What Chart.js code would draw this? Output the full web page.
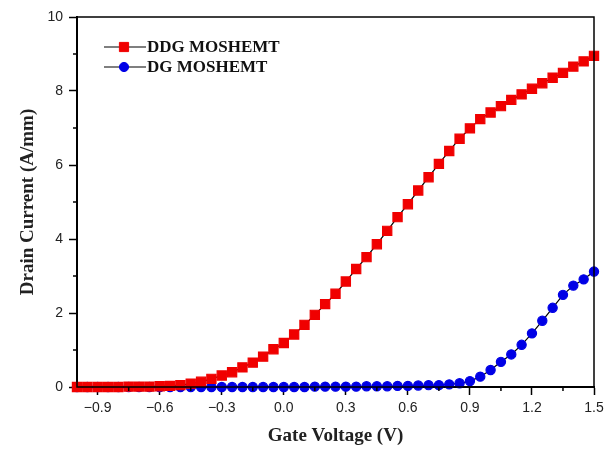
<!DOCTYPE html>
<html>
<head>
<meta charset="utf-8">
<script src="https://cdn.jsdelivr.net/npm/chart.js@4/dist/chart.umd.min.js"></script>
<style>
  html, body { margin: 0; padding: 0; background: #fff; }
  #wrap { width: 609px; height: 449px; }
</style>
</head>
<body>
<div id="wrap"><canvas id="grafico" width="609" height="449"></canvas></div>
<script>
// tensão de porta (V), passo de 0.05
const gateVoltage = [-1.00, -0.95, -0.90, -0.85, -0.80, -0.75, -0.70, -0.65, -0.60, -0.55,
  -0.50, -0.45, -0.40, -0.35, -0.30, -0.25, -0.20, -0.15, -0.10, -0.05,
  0.00, 0.05, 0.10, 0.15, 0.20, 0.25, 0.30, 0.35, 0.40, 0.45,
  0.50, 0.55, 0.60, 0.65, 0.70, 0.75, 0.80, 0.85, 0.90, 0.95,
  1.00, 1.05, 1.10, 1.15, 1.20, 1.25, 1.30, 1.35, 1.40, 1.45, 1.50];

const ddgCurrent = [0.00, 0.00, 0.00, 0.00, 0.00, 0.01, 0.01, 0.01, 0.02, 0.03,
  0.05, 0.09, 0.14, 0.22, 0.31, 0.40, 0.53, 0.66, 0.82, 1.02,
  1.19, 1.42, 1.68, 1.95, 2.24, 2.52, 2.85, 3.19, 3.51, 3.86,
  4.22, 4.59, 4.94, 5.31, 5.67, 6.03, 6.38, 6.71, 6.99, 7.24,
  7.42, 7.59, 7.76, 7.91, 8.06, 8.21, 8.36, 8.49, 8.66, 8.80, 8.95];

const dgCurrent = [0.00, 0.00, 0.00, 0.00, 0.00, 0.00, 0.00, 0.00, 0.00, 0.00,
  0.00, 0.00, 0.00, 0.00, 0.00, 0.00, 0.00, 0.00, 0.00, 0.00,
  0.00, 0.00, 0.00, 0.01, 0.01, 0.01, 0.01, 0.01, 0.02, 0.02,
  0.02, 0.03, 0.03, 0.04, 0.05, 0.05, 0.07, 0.10, 0.16, 0.28,
  0.46, 0.68, 0.88, 1.14, 1.45, 1.79, 2.14, 2.49, 2.74, 2.91, 3.12];

const seriesNames = ["DDG MOSHEMT", "DG MOSHEMT"];

const xTicks = [-0.9, -0.6, -0.3, 0.0, 0.3, 0.6, 0.9, 1.2, 1.5];
const xMinorTicks = [-0.75, -0.45, -0.15, 0.15, 0.45, 0.75, 1.05, 1.35];
const yTicks = [0, 2, 4, 6, 8, 10];
const yMinorTicks = [1, 3, 5, 7, 9];

function pontos(valores) {
  return gateVoltage.map((v, i) => ({ x: v, y: valores[i] }));
}

// moldura, ticks menores e legenda dentro do gráfico
const extras = {
  id: "extras",
  afterDraw(chart) {
    const ctx = chart.ctx;
    const area = chart.chartArea;
    const sx = chart.scales.x;
    const sy = chart.scales.y;
    ctx.save();
    ctx.strokeStyle = "#000";
    ctx.lineWidth = 1.5;
    ctx.strokeRect(area.left, area.top, area.right - area.left, area.bottom - area.top);

    ctx.lineWidth = 1.5;
    ctx.beginPath();
    xMinorTicks.forEach((v) => {
      const px = sx.getPixelForValue(v);
      ctx.moveTo(px, area.bottom);
      ctx.lineTo(px, area.bottom + 4);
    });
    yMinorTicks.forEach((v) => {
      const py = sy.getPixelForValue(v);
      ctx.moveTo(area.left, py);
      ctx.lineTo(area.left - 4, py);
    });
    ctx.stroke();

    // legenda
    ctx.font = "bold 17px 'Liberation Serif'";
    ctx.textBaseline = "middle";
    ctx.textAlign = "left";
    chart.data.datasets.forEach((ds, i) => {
      const y = 47 + i * 20;
      ctx.strokeStyle = "#000";
      ctx.lineWidth = 1.2;
      ctx.beginPath();
      ctx.moveTo(104, y);
      ctx.lineTo(146, y);
      ctx.stroke();
      ctx.fillStyle = ds.pointBackgroundColor;
      ctx.strokeStyle = ds.pointBorderColor;
      ctx.lineWidth = 1;
      Chart.helpers.drawPoint(ctx, { pointStyle: ds.pointStyle, radius: ds.pointRadius, rotation: 0, borderWidth: 1 }, 124, y);
      ctx.fillStyle = "#111";
      ctx.fillText(ds.label, 147, y + 1);
    });
    ctx.restore();
  }
};

const ctx = document.getElementById("grafico");
window.myChart = new Chart(ctx, {
  type: "scatter",
  data: {
    datasets: [
      {
        label: seriesNames[0],
        data: pontos(ddgCurrent),
        showLine: true,
        borderColor: "#000",
        borderWidth: 1.2,
        pointStyle: "rect",
        pointRadius: 6.5,
        pointBackgroundColor: "#f00000",
        pointBorderColor: "#f00000",
      },
      {
        label: seriesNames[1],
        data: pontos(dgCurrent),
        showLine: true,
        borderColor: "#000",
        borderWidth: 1.2,
        pointStyle: "circle",
        pointRadius: 4.6,
        pointBackgroundColor: "#0000e6",
        pointBorderColor: "#0000e6",
      },
    ],
  },
  options: {
    responsive: false,
    animation: false,
    clip: false,
    layout: { padding: { top: 17, right: 15, left: 0, bottom: 0 } },
    plugins: { legend: { display: false }, tooltip: { enabled: false } },
    scales: {
      x: {
        type: "linear",
        min: -1.0,
        max: 1.5,
        afterBuildTicks: (scale) => { scale.ticks = xTicks.map((v) => ({ value: v })); },
        afterFit: (scale) => { scale.height = 62; },
        grid: { drawOnChartArea: false, tickLength: 8, tickColor: "#000", tickWidth: 1.5 },
        border: { color: "#000", width: 2 },
        ticks: {
          padding: 5,
          color: "#222",
          font: { family: "'Liberation Sans'", size: 14 },
          callback: (v) => (v < 0 ? "\u2212" + Math.abs(v).toFixed(1) : v.toFixed(1)),
        },
        title: {
          display: true,
          text: "Gate Voltage (V)",
          color: "#222",
          font: { family: "'Liberation Serif'", size: 19, weight: "bold" },
          padding: { top: 0, bottom: 1.5 },
        },
      },
      y: {
        min: 0,
        max: 10,
        afterBuildTicks: (scale) => { scale.ticks = yTicks.map((v) => ({ value: v })); },
        afterFit: (scale) => { scale.width = 77; },
        grid: { drawOnChartArea: false, tickLength: 8, tickColor: "#000", tickWidth: 1.5 },
        border: { color: "#000", width: 2 },
        ticks: {
          padding: 6,
          color: "#222",
          font: { family: "'Liberation Sans'", size: 14 },
        },
        title: {
          display: true,
          text: "Drain Current (A/mm)",
          color: "#222",
          font: { family: "'Liberation Serif'", size: 19, weight: "bold" },
          padding: { top: 16.5, bottom: 0 },
        },
      },
    },
  },
  plugins: [extras],
});
</script>
</body>
</html>
